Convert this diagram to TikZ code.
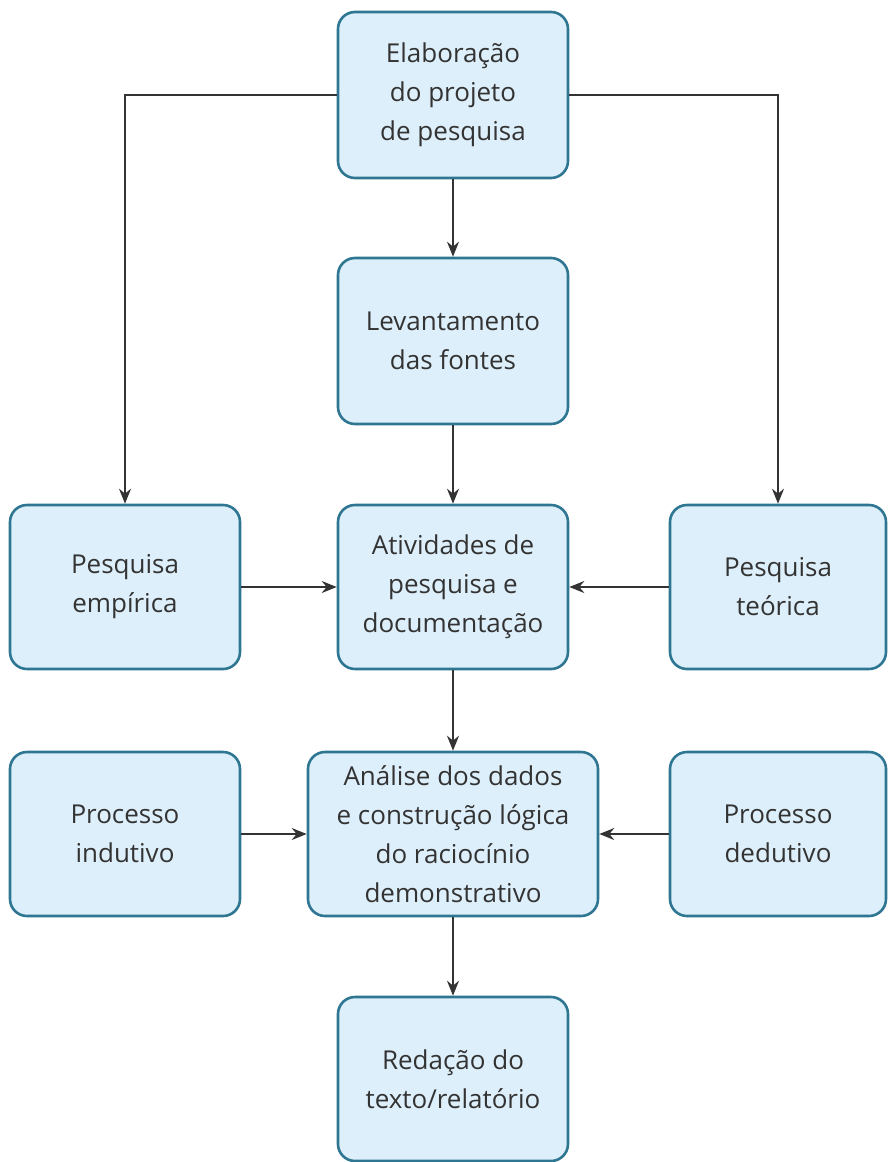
\documentclass[tikz,border=0pt]{standalone}
\usepackage{fontspec}
\setmainfont{Open Sans}
\usetikzlibrary{arrows.meta}
\definecolor{boxfill}{HTML}{DDEFFA}
\definecolor{boxline}{HTML}{2E7691}
\definecolor{txt}{HTML}{333333}
\definecolor{conn}{HTML}{333333}
\begin{document}
\begin{tikzpicture}[x=1pt,y=-1pt,
  box/.style={draw=boxline,line width=2.6pt,fill=boxfill,rounded corners=17pt,
    text=txt,align=center,inner sep=0pt,
    font=\fontsize{26}{39}\selectfont},
  arr/.style={draw=conn,line width=2pt,-{Stealth[length=15pt,width=12pt,inset=5pt]}},
  ln/.style={draw=conn,line width=2pt}]
\useasboundingbox (0,0) rectangle (888,1162);
\node[box,minimum width=230pt,minimum height=166pt] (elab) at (453,95) {Elaboração\\do projeto\\de pesquisa};
\node[box,minimum width=230pt,minimum height=166pt] (lev) at (453,341) {Levantamento\\das fontes};
\node[box,minimum width=230pt,minimum height=164pt] (emp) at (125,587) {Pesquisa\\empírica};
\node[box,minimum width=230pt,minimum height=164pt] (ativ) at (453,587) {Atividades de\\pesquisa e\\documentação};
\node[box,minimum width=216pt,minimum height=164pt] (teo) at (778,587) {Pesquisa\\teórica};
\node[box,minimum width=230pt,minimum height=164pt] (ind) at (125,834) {Processo\\indutivo};
\node[box,minimum width=290pt,minimum height=164pt] (anal) at (453,834) {Análise dos dados\\e construção lógica\\do raciocínio\\demonstrativo};
\node[box,minimum width=216pt,minimum height=164pt] (ded) at (778,834) {Processo\\dedutivo};
\node[box,minimum width=230pt,minimum height=164pt] (red) at (453,1079) {Redação do\\texto/relatório};
\draw[arr] (elab) -- (lev);
\draw[arr] (lev) -- (ativ);
\draw[arr] (ativ) -- (anal);
\draw[arr] (anal) -- (red);
\draw[arr] (emp) -- (ativ);
\draw[arr] (teo) -- (ativ);
\draw[arr] (ind) -- (anal);
\draw[arr] (ded) -- (anal);
\draw[arr] (elab.west) -| (emp.north);
\draw[arr] (elab.east) -| (teo.north);
\end{tikzpicture}
\end{document}
